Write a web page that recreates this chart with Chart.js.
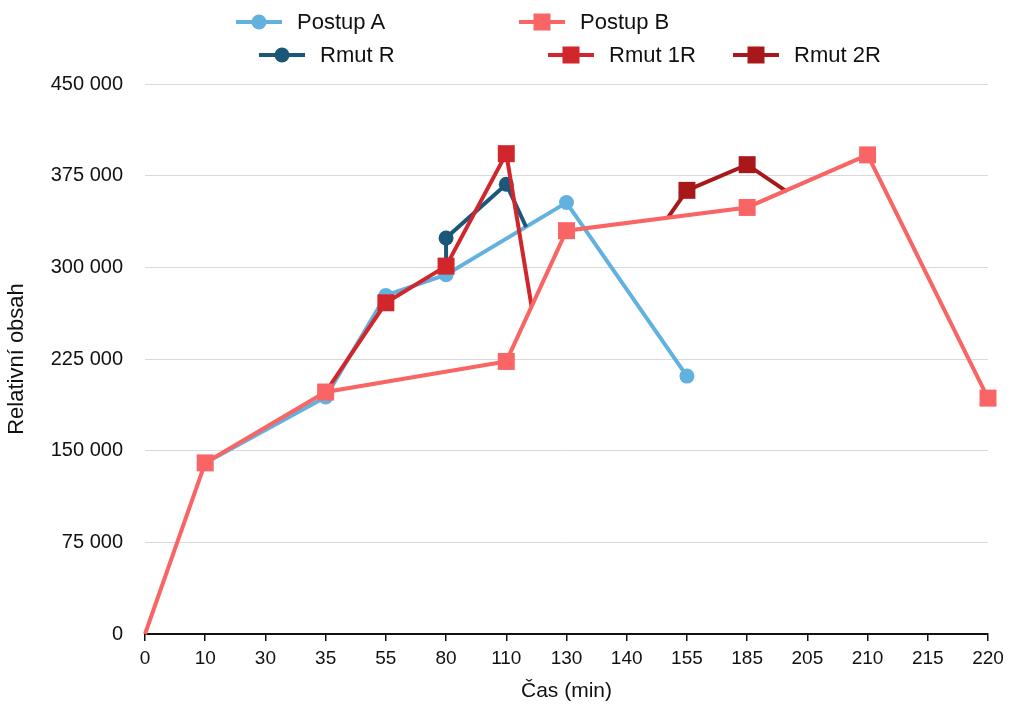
<!DOCTYPE html>
<html>
<head>
<meta charset="utf-8">
<script src="https://cdn.jsdelivr.net/npm/chart.js@4"></script>
<style>
  html, body { margin: 0; padding: 0; background: #fff; }
  #wrap { position: relative; width: 1014px; height: 706px; font-family: "Liberation Sans", Arial, sans-serif; }
  #line_chart { position: absolute; left: 0; top: 0; }
  .legend_item { position: absolute; display: flex; align-items: center; font-size: 22px; color: #111; white-space: nowrap; }
  .legend_item .mark { position: relative; width: 46px; height: 4px; margin-right: 15px; }
  .legend_item .dot { position: absolute; left: 50%; top: 50%; transform: translate(-50%, -50%); }
</style>
</head>
<body>
<div id="wrap">
  <canvas id="line_chart" width="1014" height="706"></canvas>
</div>
<script>
// x categories (minutes) - placed by index on a linear axis
const categories = ["0", "10", "30", "35", "55", "80", "110", "130", "140", "155", "185", "205", "210", "215", "220"];
const y_ticks_step = 75000;
const y_max = 450000;

// series: x = category index, y = value
const postupA_x = [1, 3, 4, 5, 7, 9];
const postupA_y = [140000, 194000, 277000, 294000, 353000, 211000];

const postupB_x = [0, 1, 3, 6, 7, 10, 12, 14];
const postupB_y = [0, 140000, 198000, 223000, 330000, 349000, 392000, 193000];

const rmutR_x = [5, 5, 6, 6.33];
const rmutR_y = [301000, 324000, 368000, 333000];

const rmut1R_x = [3, 4, 5, 6, 6.42];
const rmut1R_y = [198000, 271000, 301000, 393000, 268000];

const rmut2R_x = [8.69, 9, 10, 10.66];
const rmut2R_y = [341000, 363000, 384000, 362000];

const series_names = ["Postup A", "Postup B", "Rmut R", "Rmut 1R", "Rmut 2R"];

const colors = {
  postupA: "#63b1de",
  postupB: "#f96464",
  rmutR: "#1b5778",
  rmut1R: "#d2262d",
  rmut2R: "#a8181a",
};

const toPoints = (xs, ys) => xs.map((x, i) => ({ x: x, y: ys[i] }));

// rmut lines start/end on other lines, no marker there
const endsHidden = (r) => (c) => {
  const n = c.dataset.data.length;
  return c.dataIndex === 0 || c.dataIndex === n - 1 ? 0 : r;
};
// no marker on the zero start point
const zeroHidden = (r) => (c) => (c.raw && c.raw.y === 0 ? 0 : r);

const makeSet = (label, pts, color, style, radius, order) => ({
  label: label,
  data: pts,
  borderColor: color,
  backgroundColor: color,
  pointBackgroundColor: color,
  pointBorderWidth: 0,
  pointStyle: style,
  pointRadius: radius,
  borderWidth: 4,
  tension: 0,
  fill: false,
  clip: false,
  order: order,
});

const FONT = "'Liberation Sans', Arial, sans-serif";

const ctx = document.getElementById("line_chart").getContext("2d");

const line_chart = new Chart(ctx, {
  type: "line",
  data: {
    datasets: [
      makeSet(series_names[0], toPoints(postupA_x, postupA_y), colors.postupA, "circle", 7.5, 4),
      makeSet(series_names[1], toPoints(postupB_x, postupB_y), colors.postupB, "rect", zeroHidden(12), 0),
      makeSet(series_names[2], toPoints(rmutR_x, rmutR_y), colors.rmutR, "circle", endsHidden(7.5), 3),
      makeSet(series_names[3], toPoints(rmut1R_x, rmut1R_y), colors.rmut1R, "rect", endsHidden(12), 2),
      makeSet(series_names[4], toPoints(rmut2R_x, rmut2R_y), colors.rmut2R, "rect", endsHidden(12), 1),
    ],
  },
  options: {
    responsive: false,
    animation: false,
    layout: { padding: { top: 84, right: 26, left: 0, bottom: 0 } },
    plugins: {
      legend: { display: false },
      tooltip: { enabled: false },
    },
    scales: {
      x: {
        type: "linear",
        min: 0,
        max: categories.length - 1,
        afterFit: (scale) => { scale.height = 72; },
        ticks: {
          stepSize: 1,
          autoSkip: false,
          maxRotation: 0,
          padding: 6,
          color: "#111",
          font: { family: FONT, size: 19 },
          callback: (v) => categories[v],
        },
        grid: {
          drawOnChartArea: false,
          drawTicks: true,
          tickLength: 7,
          color: "#111",
          lineWidth: 1.5,
        },
        border: { display: true, color: "#111", width: 2 },
        title: {
          display: true,
          text: "Čas (min)",
          color: "#111",
          font: { family: FONT, size: 21 },
          padding: { top: 0, bottom: 2 },
        },
      },
      y: {
        min: 0,
        max: y_max,
        afterFit: (scale) => { scale.width = 145; },
        ticks: {
          stepSize: y_ticks_step,
          padding: 22,
          color: "#111",
          font: { family: FONT, size: 20 },
          callback: (v) => String(v).replace(/\B(?=(\d{3})+(?!\d))/g, " "),
        },
        grid: { color: "#d9d9d9", lineWidth: 1, drawTicks: false },
        border: { display: false },
        title: {
          display: true,
          text: "Relativní obsah",
          color: "#111",
          font: { family: FONT, size: 22 },
          padding: { top: 4, bottom: 0 },
        },
      },
    },
  },
});

// legend (html, laid out like the original)
const legend_layout = [
  { name: series_names[0], color: colors.postupA, style: "circle", left: 236, top: 22 },
  { name: series_names[1], color: colors.postupB, style: "rect", left: 519, top: 22 },
  { name: series_names[2], color: colors.rmutR, style: "circle", left: 259, top: 55 },
  { name: series_names[3], color: colors.rmut1R, style: "rect", left: 548, top: 55 },
  { name: series_names[4], color: colors.rmut2R, style: "rect", left: 733, top: 55 },
];

const wrap = document.getElementById("wrap");
legend_layout.forEach((item) => {
  const el = document.createElement("div");
  el.className = "legend_item";
  el.style.left = item.left + "px";
  el.style.top = item.top + "px";
  el.style.transform = "translateY(-50%)";
  const size = item.style === "circle" ? 15 : 17;
  const radius = item.style === "circle" ? "50%" : "0";
  el.innerHTML =
    `<span class="mark" style="background:${item.color}">` +
    `<span class="dot" style="width:${size}px;height:${size}px;border-radius:${radius};background:${item.color}"></span>` +
    `</span><span>${item.name}</span>`;
  wrap.appendChild(el);
});
</script>
</body>
</html>
